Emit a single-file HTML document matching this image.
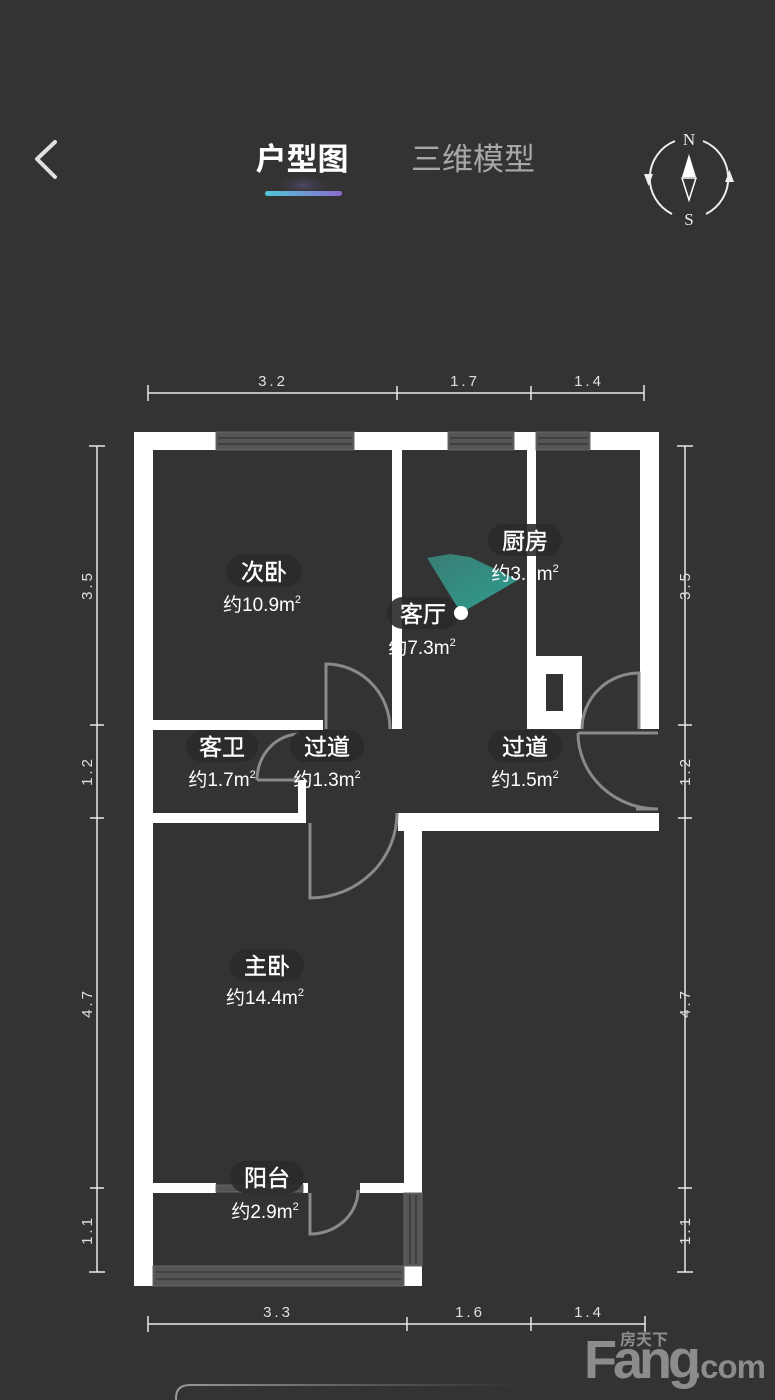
<!DOCTYPE html>
<html><head><meta charset="utf-8"><style>
html,body{margin:0;padding:0;background:#333333;}
body{width:775px;height:1400px;overflow:hidden;}
svg{display:block}
</style></head><body>
<svg width="775" height="1400" viewBox="0 0 775 1400" xmlns="http://www.w3.org/2000/svg">
<defs>
<linearGradient id="ul" x1="0" x2="1"><stop offset="0" stop-color="#4fc8d8"/><stop offset="1" stop-color="#8a6ad0"/></linearGradient>
<radialGradient id="glow" cx="0.5" cy="0.5" r="0.5"><stop offset="0" stop-color="#6a5aa0" stop-opacity="0.5"/><stop offset="1" stop-color="#333" stop-opacity="0"/></radialGradient>
<linearGradient id="fan" x1="0" y1="0" x2="1" y2="1"><stop offset="0" stop-color="#3a8a80"/><stop offset="1" stop-color="#2fb0a0"/></linearGradient>
<linearGradient id="pill" x1="0" x2="1"><stop offset="0" stop-color="#999"/><stop offset="0.6" stop-color="#555"/><stop offset="1" stop-color="#333"/></linearGradient>
</defs>
<rect width="775" height="1400" fill="#333333"/>

<path d="M55 142 L37 159 L55 177" fill="none" stroke="#e0e0e0" stroke-width="4" stroke-linecap="round" stroke-linejoin="round"/>
<text x="302" y="170" font-family="Liberation Sans,'Noto Sans CJK SC',sans-serif" font-size="31" font-weight="bold" fill="#ffffff" text-anchor="middle">户型图</text>
<text x="473" y="170" font-family="Liberation Sans,'Noto Sans CJK SC',sans-serif" font-size="31" fill="#a8a8a8" text-anchor="middle">三维模型</text>
<ellipse cx="303" cy="185" rx="30" ry="12" fill="url(#glow)"/>
<rect x="265" y="191" width="77" height="5" rx="2.5" fill="url(#ul)"/>

<g fill="none" stroke="#eeeeee" stroke-width="2">
<path d="M675 141 A40 40 0 0 0 672 214"/>
<path d="M703 141 A40 40 0 0 1 706 214"/>
</g>
<path d="M644 174 L653 174 L648.5 186 Z" fill="#eee"/>
<path d="M725 182 L734 182 L729.5 170 Z" fill="#eee"/>
<text x="689" y="145" font-family="Liberation Serif,serif" font-size="17" fill="#eee" text-anchor="middle">N</text>
<text x="689" y="225" font-family="Liberation Serif,serif" font-size="17" fill="#eee" text-anchor="middle">S</text>
<path d="M689 154 L696 177 L682 177 Z" fill="#fff"/>
<path d="M682 178 L696 178 L689 200 Z" fill="none" stroke="#fff" stroke-width="1.5"/>

<g stroke="#e8e8e8" stroke-width="1.5" fill="none">
<line x1="148" y1="393" x2="644" y2="393"/>
<line x1="148" y1="385" x2="148" y2="401"/><line x1="397" y1="386" x2="397" y2="400"/><line x1="531" y1="386" x2="531" y2="400"/><line x1="644" y1="385" x2="644" y2="401"/>
<line x1="148" y1="1324" x2="645" y2="1324"/>
<line x1="148" y1="1316" x2="148" y2="1332"/><line x1="407" y1="1317" x2="407" y2="1331"/><line x1="531" y1="1317" x2="531" y2="1331"/><line x1="645" y1="1316" x2="645" y2="1332"/>
<line x1="97" y1="446" x2="97" y2="1272"/>
<line x1="89" y1="446" x2="105" y2="446"/><line x1="90" y1="725" x2="104" y2="725"/><line x1="90" y1="818" x2="104" y2="818"/><line x1="90" y1="1188" x2="104" y2="1188"/><line x1="89" y1="1272" x2="105" y2="1272"/>
<line x1="685" y1="446" x2="685" y2="1272"/>
<line x1="677" y1="446" x2="693" y2="446"/><line x1="678" y1="725" x2="692" y2="725"/><line x1="678" y1="818" x2="692" y2="818"/><line x1="678" y1="1188" x2="692" y2="1188"/><line x1="677" y1="1272" x2="693" y2="1272"/>
</g>
<g font-family="Liberation Sans,sans-serif" font-size="15" fill="#e0e0e0" text-anchor="middle" letter-spacing="3">
<text x="273" y="386">3.2</text><text x="465" y="386">1.7</text><text x="589" y="386">1.4</text>
<text x="278" y="1317">3.3</text><text x="470" y="1317">1.6</text><text x="589" y="1317">1.4</text>
<text transform="translate(92,585) rotate(-90)">3.5</text>
<text transform="translate(92,771) rotate(-90)">1.2</text>
<text transform="translate(92,1003) rotate(-90)">4.7</text>
<text transform="translate(92,1230) rotate(-90)">1.1</text>
<text transform="translate(690,585) rotate(-90)">3.5</text>
<text transform="translate(690,771) rotate(-90)">1.2</text>
<text transform="translate(690,1003) rotate(-90)">4.7</text>
<text transform="translate(690,1230) rotate(-90)">1.1</text>
</g>

<g fill="#ffffff">
<rect x="134" y="432" width="19" height="854"/>
<rect x="134" y="432" width="82" height="18"/>
<rect x="354" y="432" width="94" height="18"/>
<rect x="514" y="432" width="22" height="18"/>
<rect x="590" y="432" width="69" height="18"/>
<rect x="640" y="432" width="19" height="297"/>
<rect x="392" y="450" width="10" height="279"/>
<rect x="527" y="450" width="9" height="279"/>
<rect x="527" y="656" width="55" height="73"/>
<rect x="153" y="720" width="170" height="10"/>
<rect x="298" y="780" width="8" height="43"/>
<rect x="134" y="813" width="172" height="10"/>
<rect x="398" y="813" width="261" height="18"/>
<rect x="404" y="813" width="18" height="380"/>
<rect x="153" y="1183" width="63" height="10"/>
<rect x="303" y="1183" width="5" height="10"/>
<rect x="360" y="1183" width="62" height="10"/>
<rect x="404" y="1266" width="18" height="20"/>
</g>
<rect x="546" y="674" width="17" height="37" fill="#333"/>

<g fill="#555555" stroke="#666" stroke-width="1">
<rect x="216" y="432" width="138" height="18"/>
<rect x="448" y="432" width="66" height="18"/>
<rect x="536" y="432" width="54" height="18"/>
<rect x="153" y="1266" width="251" height="20"/>
<rect x="404" y="1193" width="18" height="73"/>
<rect x="216" y="1185" width="87" height="7"/>
</g>
<g stroke="#3a3a3a" stroke-width="1.5">
<line x1="218" y1="438" x2="352" y2="438"/><line x1="218" y1="444" x2="352" y2="444"/>
<line x1="450" y1="438" x2="512" y2="438"/><line x1="450" y1="444" x2="512" y2="444"/>
<line x1="538" y1="438" x2="588" y2="438"/><line x1="538" y1="444" x2="588" y2="444"/>
<line x1="156" y1="1272" x2="401" y2="1272"/><line x1="156" y1="1279" x2="401" y2="1279"/>
<line x1="410" y1="1195" x2="410" y2="1264"/><line x1="416" y1="1195" x2="416" y2="1264"/>
</g>

<g fill="none" stroke="#8a8a8a" stroke-width="3">
<path d="M326 729 L326 664 A64 65 0 0 1 390 729"/>
<path d="M639 729 L639 673 A57 56 0 0 0 582 729"/>
<path d="M578 733 L658 733 M578 733 A80 76 0 0 0 658 809 L636 809"/>
<path d="M257 780 L300 780 M257 780 A43 46 0 0 1 300 734"/>
<path d="M310 823 L310 898 A87 85 0 0 0 397 813"/>
<path d="M310 1193 L310 1234 A48 44 0 0 0 358 1190"/>
</g>

<g font-family="Liberation Sans,'Noto Sans CJK SC',sans-serif" text-anchor="middle">
<g fill="#2a2a2a" opacity="0.9">
<rect x="226" y="555" width="76" height="32" rx="16"/>
<rect x="387" y="597" width="72" height="32" rx="16"/>
<rect x="488" y="524" width="74" height="32" rx="16"/>
<rect x="186" y="730" width="72" height="32" rx="16"/>
<rect x="290" y="730" width="74" height="32" rx="16"/>
<rect x="488" y="730" width="74" height="32" rx="16"/>
<rect x="230" y="949" width="74" height="32" rx="16"/>
<rect x="230" y="1161" width="74" height="32" rx="16"/>
</g>
<path d="M461 613 L427 558 L450 554 L470 557 L518 580 Z" fill="url(#fan)" opacity="0.85"/>
<g fill="#ffffff" font-size="23" stroke="#fff" stroke-width="0.4">
<text x="264" y="580">次卧</text>
<text x="423" y="622">客厅</text>
<text x="525" y="549">厨房</text>
<text x="222" y="755">客卫</text>
<text x="327" y="755">过道</text>
<text x="525" y="755">过道</text>
<text x="267" y="974">主卧</text>
<text x="267" y="1186">阳台</text>
</g>
<g fill="#ffffff" font-size="19">
<text x="262" y="611">约10.9m<tspan font-size="11" dy="-8">2</tspan></text>
<text x="422" y="654">约7.3m<tspan font-size="11" dy="-8">2</tspan></text>
<text x="525" y="580">约3.9m<tspan font-size="11" dy="-8">2</tspan></text>
<text x="222" y="786">约1.7m<tspan font-size="11" dy="-8">2</tspan></text>
<text x="327" y="786">约1.3m<tspan font-size="11" dy="-8">2</tspan></text>
<text x="525" y="786">约1.5m<tspan font-size="11" dy="-8">2</tspan></text>
<text x="265" y="1004">约14.4m<tspan font-size="11" dy="-8">2</tspan></text>
<text x="265" y="1218">约2.9m<tspan font-size="11" dy="-8">2</tspan></text>
</g>
</g>
<circle cx="461" cy="613" r="7" fill="#ffffff"/>

<text x="584" y="1378" font-family="Liberation Sans,sans-serif" font-size="54" font-weight="bold" fill="#8c8c8c" letter-spacing="-4">Fang</text>
<text x="692" y="1378" font-family="Liberation Sans,sans-serif" font-size="33" font-weight="bold" fill="#8c8c8c" letter-spacing="-1">.com</text>
<text x="644" y="1345" font-family="Liberation Sans,'Noto Sans CJK SC',sans-serif" font-size="16" font-weight="bold" fill="#8c8c8c" text-anchor="middle">房天下</text>
<path d="M176 1400 L176 1398 Q176 1385 190 1385 L520 1385" fill="none" stroke="url(#pill)" stroke-width="2"/>
</svg>
</body></html>
